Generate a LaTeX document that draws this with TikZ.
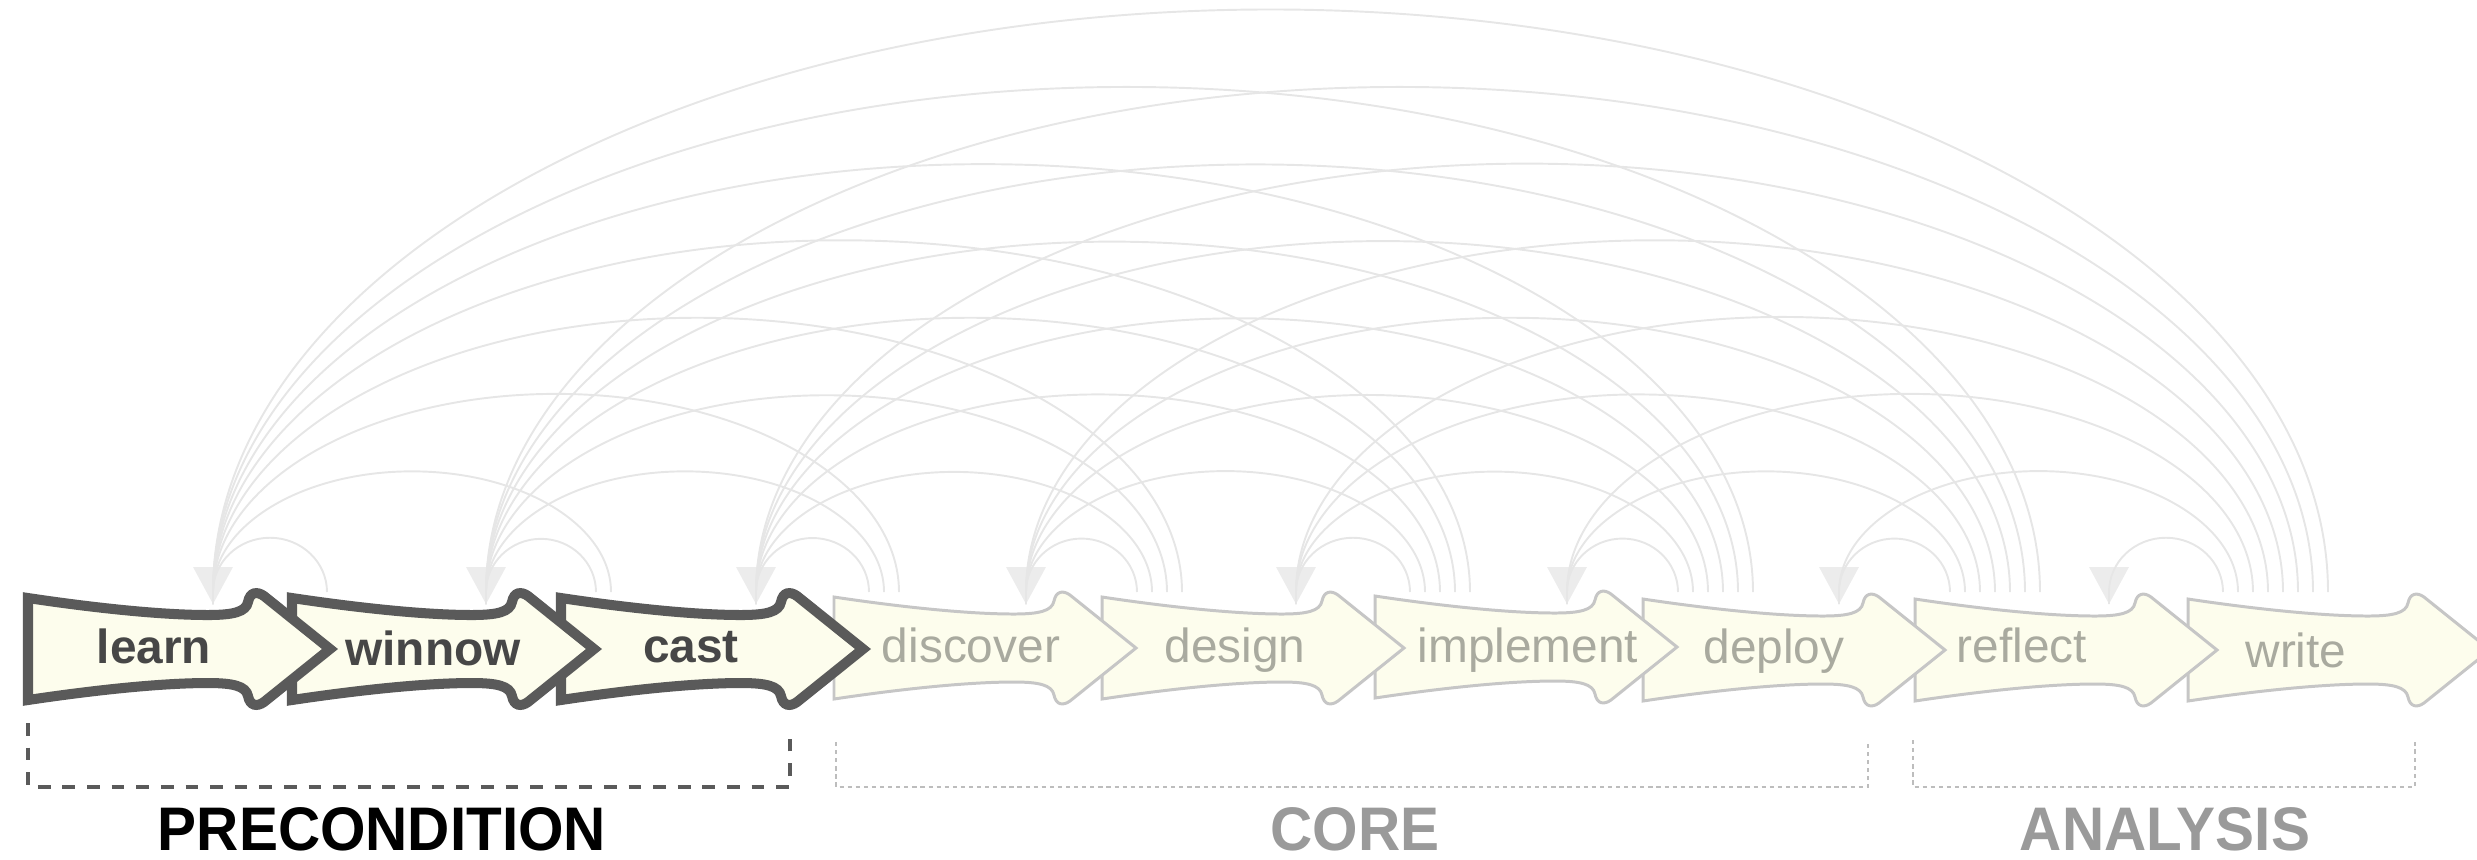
\documentclass[tikz,border=0pt]{standalone}
\usepackage{fontspec}
\setmainfont{Liberation Sans}
\definecolor{arcc}{HTML}{E6E6E6}
\definecolor{boldline}{HTML}{5A5A5A}
\definecolor{stagefill}{HTML}{FDFDED}
\definecolor{lightline}{HTML}{C6C6C6}
\definecolor{boldtext}{HTML}{474747}
\definecolor{lighttext}{HTML}{A9AA9F}
\definecolor{grouptext}{HTML}{9A9A9A}
\definecolor{lightbr}{HTML}{BDBDBD}
\tikzset{
  stagearrow/.pic={\path[pic actions] (0,-51) .. controls (60,-42) and (130,-34) .. (180,-34) .. controls (205,-34) and (218,-37) .. (220,-47) .. controls (222,-57) and (229,-58) .. (236,-53) -- (302,0) -- (236,53) .. controls (229,58) and (222,57) .. (220,47) .. controls (218,37) and (205,34) .. (180,34) .. controls (130,34) and (60,42) .. (0,51) -- cycle;},
  boldstage/.style={draw=boldline, fill=stagefill, line width=2.85pt, miter limit=10},
  lightstage/.style={draw=lightline, fill=stagefill, line width=0.85pt},
  boldlabel/.style={font=\fontsize{13.6}{16}\selectfont\bfseries, text=boldtext, anchor=base, inner sep=0pt},
  lightlabel/.style={font=\fontsize{13.6}{16}\selectfont, text=lighttext, anchor=base, inner sep=0pt},
  grouplabel/.style={font=\fontsize{17.5}{20}\selectfont\bfseries, anchor=base, inner sep=0pt, xscale=0.95},
  arcline/.style={draw=arcc, line width=0.55pt},
  headfill/.style={fill=arcc, fill opacity=0.75},
  boldbracket/.style={draw=boldline, line width=1.4pt, dash pattern=on 3.6pt off 3.4pt},
  lightbracket/.style={draw=lightbr, line width=0.6pt, dash pattern=on 1.2pt off 1.1pt},
}
\def\lefts{{26,292,561,834,1102,1375,1643,1915,2188}}
\def\targs{{213,486,756,1026,1296,1567,1839,2109}}
\begin{document}
\begin{tikzpicture}[x=0.01cm, y=-0.01cm]
\useasboundingbox (0,0) rectangle (2477,859);
\clip (0,0) rectangle (2477,859);

% arrow targets
\foreach \i in {0,...,7} {
  \pgfmathsetmacro\tx{\targs[\i]}
  \coordinate (t\i) at (\tx,604);
}

% feedback arcs
\foreach \j in {1,...,8} {
  \foreach \k in {1,...,\j} {
    \pgfmathtruncatemacro\ti{\j-\k}
    \pgfmathsetmacro\xs{\lefts[\j]+35+15*(\k-1)}
    \pgfmathsetmacro\xt{\targs[\ti]}
    \pgfmathsetmacro\arcA{(\xs-\xt)/2}
    \pgfmathsetmacro\arcC{(\xs+\xt)/2}
    \pgfmathsetmacro\arcB{0.269*(\xs-\xt)+13.6+10*((\xs-\xt)<200)}
    \pgfmathsetmacro\cy{592-0.5523*\arcB}
    \pgfmathsetmacro\ty{592-\arcB}
    \pgfmathsetmacro\cR{\arcC+0.5523*\arcA}
    \pgfmathsetmacro\cL{\arcC-0.5523*\arcA}
    \coordinate (s\j-\k) at (\xs,592);
    \draw[arcline] (s\j-\k) .. controls (\xs,\cy) and (\cR,\ty) .. (\arcC,\ty)
       .. controls (\cL,\ty) and (\xt,\cy) .. (\xt,592) -- (t\ti);
  }
}

% arrowheads
\foreach \i in {0,...,7} {
  \fill[headfill, shift={(t\i)}] (-20,-37) -- (20,-37) -- (0,0) -- cycle;
}

% stages (drawn from last to first so that earlier ones lie on top)
\pic[lightstage] at (2188,650) {stagearrow};
\pic[lightstage] at (1915,650) {stagearrow};
\pic[lightstage] at (1643,650) {stagearrow};
\pic[lightstage] at (1375,647) {stagearrow};
\pic[lightstage] at (1102,648) {stagearrow};
\pic[lightstage] at (834,648) {stagearrow};
\pic[boldstage] at (561,649) {stagearrow};
\pic[boldstage] at (292,649) {stagearrow};
\pic[boldstage] at (28,649) {stagearrow};

% stage labels
\node[boldlabel] (learn) at (154,663) {learn};
\node[boldlabel] (winnow) at (433,665) {winnow};
\node[boldlabel] (cast) at (691,662) {cast};
\node[lightlabel] (discover) at (971,662) {discover};
\node[lightlabel] (design) at (1235,662) {design};
\node[lightlabel] (implement) at (1528,662) {implement};
\node[lightlabel] (deploy) at (1774,663) {deploy};
\node[lightlabel] (reflect) at (2022,662) {reflect};
\node[lightlabel] (write) at (2296,667) {write};

% group brackets
\draw[boldbracket] (28,723) -- (28,787) -- (790,787) -- (790,730);
\draw[lightbracket] (836,742) -- (836,787) -- (1868,787) -- (1868,742);
\draw[lightbracket] (1913,740) -- (1913,787) -- (2415,787) -- (2415,742);

% group labels
\node[grouplabel, text=black] (precondition) at (382,850) {PRECONDITION};
\node[grouplabel, text=grouptext] (core) at (1355,850) {CORE};
\node[grouplabel, text=grouptext] (analysis) at (2165,850) {ANALYSIS};
\end{tikzpicture}
\end{document}
